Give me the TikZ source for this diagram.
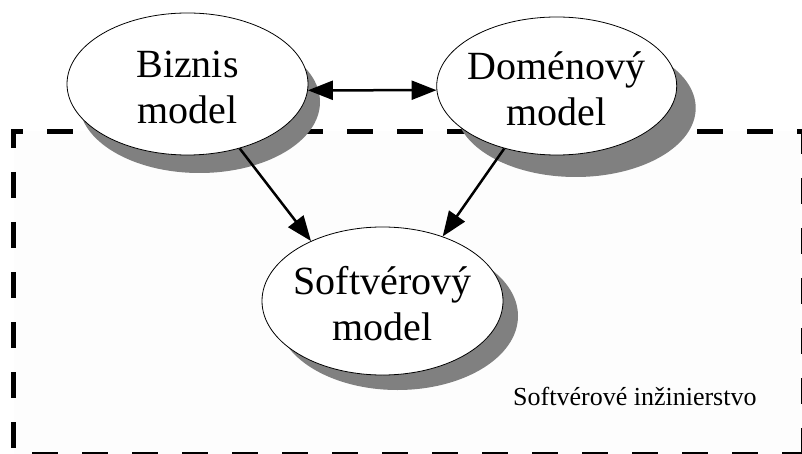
\documentclass[tikz,border=0pt]{standalone}
\usepackage{fontspec}
\setmainfont{Liberation Serif}
\usetikzlibrary{shapes.geometric,arrows.meta,shadows}
\definecolor{shadowgray}{RGB}{128,128,128}
\definecolor{areafill}{RGB}{253,253,253}
\begin{document}
\begin{tikzpicture}[x=1pt,y=-1pt,
  model/.style={ellipse, draw=black, line width=0.8pt, fill=white,
    inner xsep=-20pt, inner ysep=0pt, align=center,
    text height=78.6pt, text depth=0pt,
    font=\fontsize{40}{46}\selectfont},
  shad/.style 2 args={drop shadow={shadow xshift=#1, shadow yshift=#2,
    opacity=1, fill=shadowgray}},
  border/.style={line width=5pt, dash pattern=on 26pt off 24pt},
  conn/.style={line width=2.5pt, -{Triangle[length=25pt,width=19pt]}},
  conntwo/.style={line width=2.5pt,
    {Triangle[length=25pt,width=19pt]}-{Triangle[length=25pt,width=19pt]}}]
\useasboundingbox (0,0) rectangle (802,454);
\clip (0,0) rectangle (802,454);
% dashed area
\coordinate (tl) at (13.5,131.5);
\coordinate (tr) at (803.5,131.5);
\coordinate (bl) at (13.5,454.2);
\coordinate (br) at (803.5,454.2);
\fill[areafill] (tl) rectangle (br);
\draw[border, dash phase=14pt] ([xshift=-2.5pt]tl) -- (tr);
\draw[border, dash phase=9.5pt] (tl) -- (bl);
\draw[border, dash phase=3.5pt] (tr) -- (br);
\draw[border, dash phase=31.5pt] (bl) -- (br);
% models
\node[model, shad={12pt}{-18pt}, minimum width=241pt, minimum height=142pt]
  (biz) at (187.5,84) {Biznis\\model};
\node[model, shad={19pt}{-22pt}, minimum width=240pt, minimum height=138pt]
  (dom) at (556.7,86) {Doménový\\model};
\node[model, shad={15pt}{-15pt}, minimum width=241pt, minimum height=148pt]
  (soft) at (382.5,301) {Softvérový\\model};
% connectors
\draw[conntwo] (biz.-3) -- (dom.182);
\draw[conn] (biz.-51.5) -- (soft.140.6);
\draw[conn] (dom.230.6) -- (soft.47.3);
% label
\node[anchor=base west, inner sep=0pt, font=\fontsize{26}{30}\selectfont]
  (lbl) at (513,405) {Softvérové inžinierstvo};
\end{tikzpicture}
\end{document}
